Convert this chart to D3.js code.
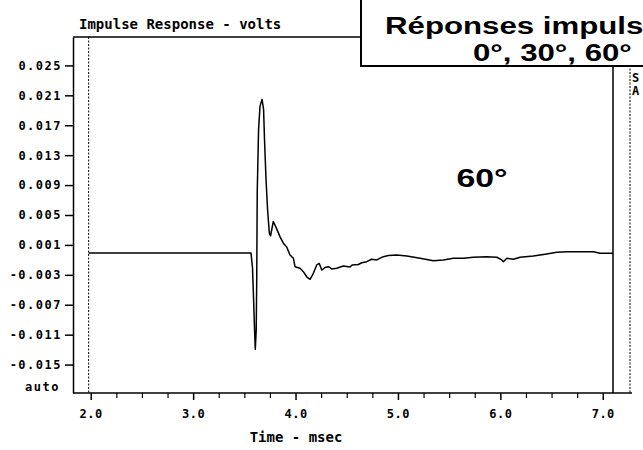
<!DOCTYPE html>
<html>
<head>
<meta charset="utf-8">
<script src="https://cdn.jsdelivr.net/npm/d3@7"></script>
<style>
  body { margin: 0; background: #fff; }
  svg { display: block; }
</style>
</head>
<body>
<svg id="chart" width="643" height="450"></svg>
<script>
// impulse response, 60 degrees
const timeMs = [1.979, 3.565, 3.580, 3.590, 3.600, 3.607, 3.616, 3.621, 3.626, 3.639,
  3.653, 3.673, 3.688, 3.697, 3.712, 3.727, 3.744, 3.756, 3.783, 3.816,
  3.849, 3.881, 3.914, 3.946, 3.979, 3.995, 4.044, 4.076, 4.109, 4.142,
  4.174, 4.207, 4.232, 4.256, 4.288, 4.320, 4.354, 4.402, 4.467, 4.532,
  4.552, 4.613, 4.646, 4.695, 4.744, 4.793, 4.857, 4.906, 4.988, 5.086,
  5.216, 5.346, 5.443, 5.541, 5.639, 5.736, 5.867, 5.965, 6.014, 6.029,
  6.063, 6.127, 6.192, 6.322, 6.453, 6.551, 6.648, 6.908, 6.974, 7.101];
const volts = [-0.00007, -0.00007, -0.00209, -0.00611, -0.01041, -0.01296, -0.01041, -0.00370, 0.00798, 0.01644,
  0.01952, 0.02046, 0.01912, 0.01509, 0.00972, 0.00570, 0.00261, 0.00221, 0.00413, 0.00315,
  0.00207, 0.00123, 0.00073, -0.00034, -0.00079, -0.00191, -0.00213, -0.00258, -0.00326, -0.00360,
  -0.00280, -0.00168, -0.00148, -0.00236, -0.00202, -0.00191, -0.00222, -0.00213, -0.00182, -0.00195,
  -0.00168, -0.00162, -0.00138, -0.00124, -0.00092, -0.00101, -0.00057, -0.00041, -0.00034, -0.00048,
  -0.00079, -0.00111, -0.00101, -0.00079, -0.00079, -0.00065, -0.00057, -0.00065, -0.00101, -0.00124,
  -0.00079, -0.00092, -0.00065, -0.00048, -0.00021, 0.00002, 0.00010, 0.00010, -0.00011, -0.00011];

const xTicks = [2, 3, 4, 5, 6, 7];
const xMinorTicks = [2.25, 2.5, 2.75, 3.25, 3.5, 3.75, 4.25, 4.5, 4.75, 5.25, 5.5, 5.75, 6.25, 6.5, 6.75];
const yTicks = [0.025, 0.021, 0.017, 0.013, 0.009, 0.005, 0.001, -0.003, -0.007, -0.011, -0.015];

const titleLines = ["Réponses impulsionnelles", "0°, 30°, 60°"];
const curveLabel = "60°";

const monoFont = "'DejaVu Sans Mono', monospace";
const sansFont = "'Liberation Sans', Arial, sans-serif";
const stretch = 1.3; // the Arial labels are drawn wide in the original

let width = 643, height = 450;
let margin = ({top: 37, left: 73, right: 613, bottom: 393});

let x = d3.scaleLinear()
    .domain([1.827, 7.1])
    .range([margin.left, margin.right]);

let y = d3.scaleLinear()
    .domain([-0.0188, 0.0288])
    .range([margin.bottom, margin.top]);

const svg = d3.select("#chart");
svg.append("rect").attr("width", width).attr("height", height).attr("fill", "#fff");

// frame
svg.append("line")
    .attr("x1", margin.left).attr("x2", 640)
    .attr("y1", margin.top).attr("y2", margin.top)
    .attr("stroke", "#000").attr("stroke-width", 1.5);
svg.append("line")
    .attr("x1", margin.left).attr("x2", 632)
    .attr("y1", margin.bottom).attr("y2", margin.bottom)
    .attr("stroke", "#000").attr("stroke-width", 1.5);
svg.append("line")
    .attr("x1", margin.right).attr("x2", margin.right)
    .attr("y1", margin.top).attr("y2", margin.bottom)
    .attr("stroke", "#000").attr("stroke-width", 1.5);
svg.append("line")
    .attr("x1", 630).attr("x2", 630)
    .attr("y1", margin.top).attr("y2", margin.bottom)
    .attr("stroke", "#000").attr("stroke-width", 1)
    .attr("stroke-dasharray", "2,1.5");

// dashed marker at the start of the window
svg.append("line")
    .attr("x1", x(1.98)).attr("x2", x(1.98))
    .attr("y1", margin.top).attr("y2", margin.bottom)
    .attr("stroke", "#000").attr("stroke-width", 1)
    .attr("stroke-dasharray", "2,1.5");

// y axis
let yAxis = g => g
    .attr("transform", `translate(${margin.left},0)`)
    .call(d3.axisLeft(y)
        .tickValues(yTicks)
        .tickFormat(d => d.toFixed(3))
        .tickSize(8)
        .tickSizeOuter(0)
        .tickPadding(3));
const yg = svg.append("g").call(yAxis);
yg.select(".domain").attr("stroke-width", 1.5);
yg.selectAll(".tick line").attr("stroke-width", 1.5);
yg.selectAll("text")
    .attr("font-family", monoFont)
    .attr("font-weight", "bold")
    .attr("font-size", 12)
    .attr("letter-spacing", 1.5)
    .attr("fill", "#000");
svg.append("text")
    .attr("x", margin.left - 13).attr("y", margin.bottom - 2)
    .attr("text-anchor", "end")
    .attr("font-family", monoFont).attr("font-weight", "bold")
    .attr("font-size", 12).attr("letter-spacing", 1.5)
    .text("auto");

// x axis
let xAxis = g => g
    .attr("transform", `translate(0,${margin.bottom})`)
    .call(d3.axisBottom(x)
        .tickValues(xTicks)
        .tickFormat(d => d.toFixed(1))
        .tickSize(7)
        .tickSizeOuter(0)
        .tickPadding(9))
    .call(g => g.select(".domain").remove());
const xg = svg.append("g").call(xAxis);
xg.selectAll(".tick line").attr("stroke-width", 1.5);
xg.selectAll("text")
    .attr("font-family", monoFont)
    .attr("font-weight", "bold")
    .attr("font-size", 12)
    .attr("letter-spacing", 0.5)
    .attr("fill", "#000");
svg.append("g")
    .attr("transform", `translate(0,${margin.bottom})`)
    .call(d3.axisBottom(x).tickValues(xMinorTicks).tickFormat("").tickSize(5).tickSizeOuter(0))
    .call(g => g.select(".domain").remove())
    .selectAll(".tick line").attr("stroke-width", 1.2);

svg.append("text")
    .attr("x", 296).attr("y", 442)
    .attr("text-anchor", "middle")
    .attr("font-family", monoFont).attr("font-weight", "bold")
    .attr("font-size", 14)
    .text("Time - msec");

svg.append("text")
    .attr("x", 79).attr("y", 29)
    .attr("font-family", monoFont).attr("font-weight", "bold")
    .attr("font-size", 14)
    .text("Impulse Response - volts");

// response curve
const points = timeMs.map((t, i) => [t, volts[i]]);
svg.append("path")
    .datum(points)
    .attr("fill", "none")
    .attr("stroke", "#000")
    .attr("stroke-width", 1.5)
    .attr("stroke-linejoin", "round")
    .attr("d", d3.line().x(d => x(d[0])).y(d => y(d[1])));

svg.append("text")
    .attr("transform", `translate(482,187) scale(${stretch},1)`)
    .attr("text-anchor", "middle")
    .attr("font-family", sansFont).attr("font-weight", "bold")
    .attr("font-size", 26)
    .text(curveLabel);

// side panel letters
svg.append("text").attr("x", 632).attr("y", 82)
    .attr("font-family", monoFont).attr("font-weight", "bold").attr("font-size", 12).text("S");
svg.append("text").attr("x", 632).attr("y", 95)
    .attr("font-family", monoFont).attr("font-weight", "bold").attr("font-size", 12).text("A");

// title box
svg.append("rect")
    .attr("x", 361).attr("y", -10)
    .attr("width", 300).attr("height", 76)
    .attr("fill", "#fff")
    .attr("stroke", "#000").attr("stroke-width", 2);
svg.append("text")
    .attr("transform", `translate(385,34) scale(${stretch},1)`)
    .attr("font-family", sansFont).attr("font-weight", "bold")
    .attr("font-size", 24)
    .text(titleLines[0]);
svg.append("text")
    .attr("transform", `translate(473,61) scale(${stretch},1)`)
    .attr("font-family", sansFont).attr("font-weight", "bold")
    .attr("font-size", 24)
    .text(titleLines[1]);
</script>
</body>
</html>
